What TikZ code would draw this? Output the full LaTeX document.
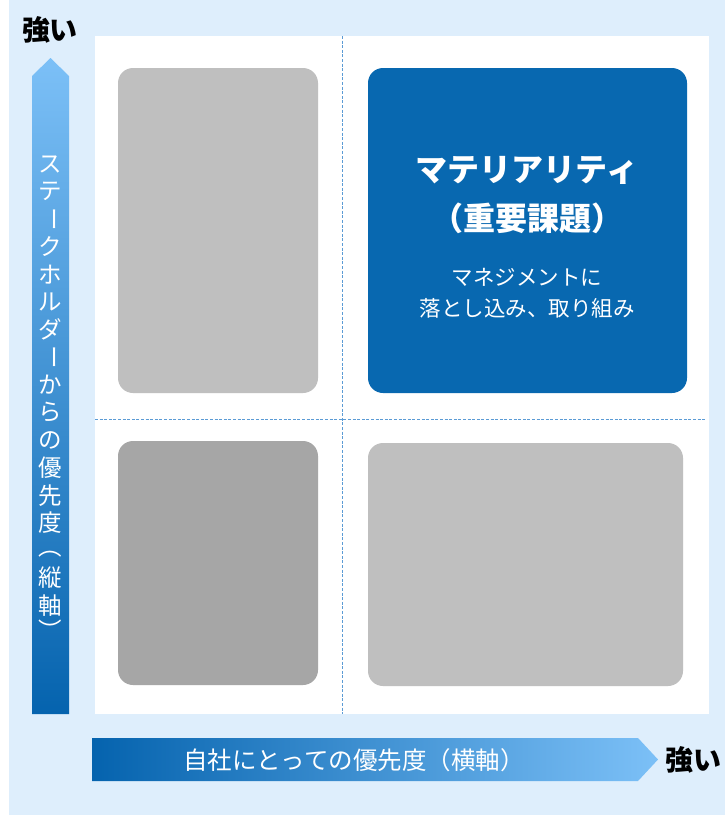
\documentclass[tikz,border=0pt]{standalone}
\usepackage{fontspec}
\setmainfont{Noto Sans CJK JP}
\usepackage{graphicx}
\definecolor{bgblue}{HTML}{DEEEFC}
\definecolor{boxblue}{HTML}{0868B0}
\definecolor{lgray}{HTML}{BFBFBF}
\definecolor{dgray}{HTML}{A6A6A6}
\definecolor{dashblue}{HTML}{5B9BD5}
\definecolor{arrdark}{HTML}{0563AE}
\definecolor{arrlight}{HTML}{7CC0F7}
\tikzset{
  quad/.style={rounded corners=15pt, inner sep=0pt, outer sep=0pt, draw=none},
  grid/.style={draw=dashblue, line width=1pt, dash pattern=on 3pt off 1.6pt},
  strong/.style={font=\fontsize{28}{32}\selectfont\bfseries, text=black, inner sep=0pt},
  wtext/.style={text=white, inner sep=0pt},
  vchar/.style={wtext, font=\fontsize{23.5}{27}\selectfont},
}
\newcommand{\vrot}[1]{\rotatebox[origin=c]{-90}{#1}}
\begin{document}
\begin{tikzpicture}[x=1pt,y=-1pt]
\useasboundingbox (0,0) rectangle (725,815);
\fill[white] (0,0) rectangle (725,815);
\fill[bgblue] (9,0) rectangle (725,815);
% white panel
\fill[white] (95,36) rectangle (709,714);
% grid lines
\coordinate (vt) at (342,36);
\coordinate (vb) at (342,714);
\coordinate (hl) at (95,419);
\coordinate (hr) at (705,419);
\draw[grid] (vt) -- (vb);
\draw[grid] (hl) -- (hr);
% quadrants
\node[quad, fill=lgray, minimum width=200pt, minimum height=325pt] (tl) at (218,230.5) {};
\node[quad, fill=boxblue, minimum width=319pt, minimum height=325pt] (tr) at (527.5,230.5) {};
\node[quad, fill=dgray, minimum width=200pt, minimum height=244pt] (bl) at (218,563) {};
\node[quad, fill=lgray, minimum width=315pt, minimum height=243pt] (br) at (525.5,564.5) {};
% blue box texts
\node[wtext, font=\fontsize{32}{36}\selectfont\bfseries] (t1) at (527,170) {マテリアリティ};
\node[wtext, font=\fontsize{32}{36}\selectfont\bfseries] (t2) at (527,218) {（重要課題）};
\node[wtext, font=\fontsize{21.5}{24}\selectfont] (t3) at (527,277) {マネジメントに};
\node[wtext, font=\fontsize{21.5}{24}\selectfont] (t4) at (527,308) {落とし込み、取り組み};
% vertical arrow
\shade[bottom color=arrdark, top color=arrlight] (32,714) -- (32,76) -- (50.5,58) -- (69,76) -- (69,714) -- cycle;
\foreach \c [count=\i from 0] in {ス,テ,{\vrot{ー}},ク,ホ,ル,ダ,{\vrot{ー}},か,ら,の,優,先,度}
  \node[vchar] (v\i) at (50.5,{164+27.6*\i}) {\c};
\node[vchar] (vpo) at (50.5,554) {︵};
\node[vchar] (vt1) at (50.5,{164+27.6*15}) {縦};
\node[vchar] (vt2) at (50.5,{164+27.6*16}) {軸};
\node[vchar] (vpc) at (50.5,630) {︶};
% horizontal arrow
\shade[left color=arrdark, right color=arrlight] (92,738) -- (638,738) -- (658,759.5) -- (638,781) -- (92,781) -- cycle;
\node[wtext, font=\fontsize{24.5}{27}\selectfont] (htext) at (354,760) {自社にとっての優先度（横軸）};
% strong labels
\node[strong] (s1) at (50,30) {強い};
\node[strong] (s2) at (693,760) {強い};
\end{tikzpicture}
\end{document}
